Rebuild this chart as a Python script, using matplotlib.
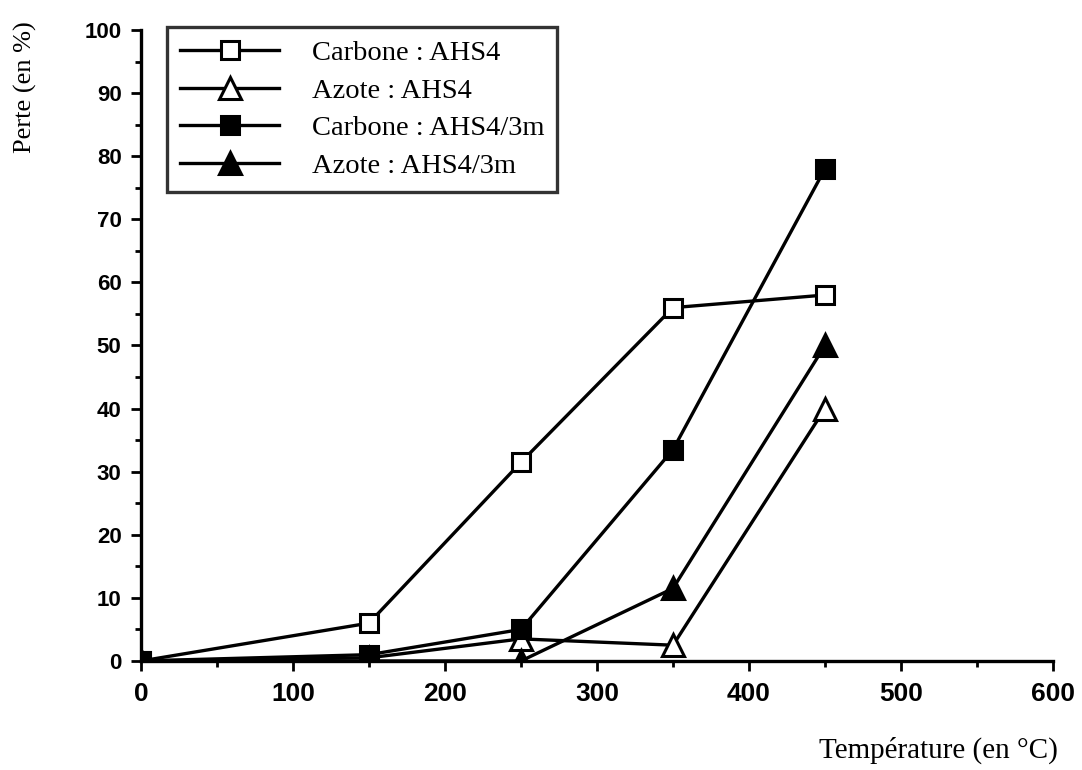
import matplotlib
matplotlib.use("Agg")
import matplotlib.pyplot as plt
from matplotlib.ticker import MultipleLocator

temperatures = [0, 150, 250, 350, 450]
carbone_ahs4 = [0, 6, 31.5, 56, 58]
azote_ahs4 = [0, 0.5, 3.5, 2.5, 40]
carbone_ahs4_3m = [0, 1, 5, 33.5, 78]
azote_ahs4_3m = [0, 0, 0, 11.5, 50]
labels = ["Carbone : AHS4", "Azote : AHS4", "Carbone : AHS4/3m", "Azote : AHS4/3m"]

fig = plt.figure(figsize=(10.82, 7.7), dpi=100)
ax = fig.add_axes([0.1303, 0.1416, 0.8429, 0.8194])

lw = 2.4
sq = dict(marker="s", ms=13, mew=2.2)
tri = dict(marker="^", ms=16, mew=2.2)
ax.plot(temperatures, carbone_ahs4, color="black", lw=lw, mfc="white",
        mec="black", label=labels[0], zorder=3, **sq)
ax.plot(temperatures, azote_ahs4, color="black", lw=lw, mfc="white",
        mec="black", label=labels[1], zorder=3, **tri)
ax.plot(temperatures, carbone_ahs4_3m, color="black", lw=lw, mfc="black",
        mec="black", label=labels[2], zorder=4, **sq)
ax.plot(temperatures, azote_ahs4_3m, color="black", lw=lw, mfc="black",
        mec="black", label=labels[3], zorder=4, **tri)

ax.set_xlim(0, 600)
ax.set_ylim(0, 100)
ax.xaxis.set_major_locator(MultipleLocator(100))
ax.xaxis.set_minor_locator(MultipleLocator(50))
ax.yaxis.set_major_locator(MultipleLocator(10))
ax.yaxis.set_minor_locator(MultipleLocator(5))
for s in ["top", "right"]:
    ax.spines[s].set_visible(False)
for s in ["left", "bottom"]:
    ax.spines[s].set_linewidth(2.4)
ax.tick_params(which="major", direction="out", length=7, width=2)
ax.tick_params(which="minor", direction="out", length=4, width=2)
ax.tick_params(axis="y", which="major", labelsize=16, pad=7)
ax.tick_params(axis="x", which="major", labelsize=19, pad=8)
for lab in ax.get_xticklabels() + ax.get_yticklabels():
    lab.set_fontfamily("Liberation Sans")
    lab.set_fontweight("bold")

fig.text(0.013, 0.972, "Perte (en %)", rotation=90, ha="left", va="top",
         fontsize=19, family="Liberation Serif")
fig.text(0.978, 0.0156, "Température (en °C)", ha="right", va="baseline",
         fontsize=21, family="Liberation Serif")

leg = ax.legend(loc="upper left", bbox_to_anchor=(0.0285, 1.005),
                borderaxespad=0, frameon=True, fancybox=False,
                edgecolor="black", handlelength=3.5, handletextpad=1.15,
                borderpad=0.45, labelspacing=0.42,
                prop={"family": "Liberation Serif", "size": 20.5})
leg.get_frame().set_linewidth(2.4)
leg.set_zorder(10)

fig.savefig("out.png", dpi=100, facecolor="white")
